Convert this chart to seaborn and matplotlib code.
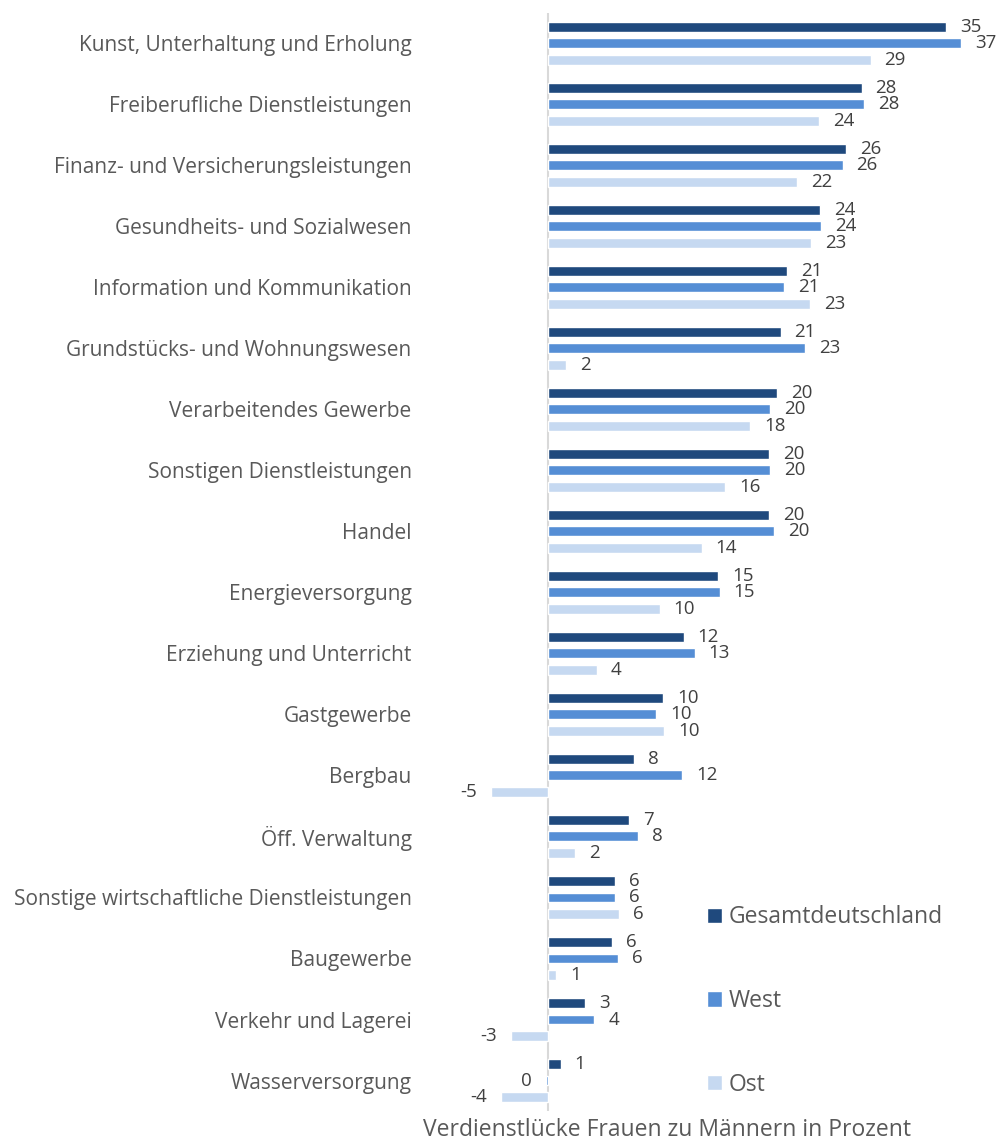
import pandas as pd
import seaborn as sns
import matplotlib.pyplot as plt

# Branchen (top to bottom) and pay gap values per region
branchen = ['Kunst, Unterhaltung und Erholung', 'Freiberufliche Dienstleistungen',
            'Finanz- und Versicherungsleistungen', 'Gesundheits- und Sozialwesen',
            'Information und Kommunikation', 'Grundstücks- und Wohnungswesen',
            'Verarbeitendes Gewerbe', 'Sonstigen Dienstleistungen', 'Handel',
            'Energieversorgung', 'Erziehung und Unterricht', 'Gastgewerbe', 'Bergbau',
            'Öff. Verwaltung', 'Sonstige wirtschaftliche Dienstleistungen', 'Baugewerbe',
            'Verkehr und Lagerei', 'Wasserversorgung']
gesamt = [35.3, 27.8, 26.4, 24.1, 21.2, 20.6, 20.3, 19.6, 19.6, 15.1, 12.0, 10.2, 7.6, 7.2, 5.9, 5.7, 3.3, 1.1]
west = [36.6, 28.0, 26.1, 24.2, 20.9, 22.8, 19.7, 19.7, 20.0, 15.2, 13.0, 9.6, 11.9, 8.0, 5.9, 6.2, 4.1, -0.2]
ost = [28.6, 24.0, 22.1, 23.3, 23.2, 1.6, 17.9, 15.7, 13.6, 9.9, 4.3, 10.3, -5.1, 2.4, 6.3, 0.7, -3.3, -4.2]
regionen = ['Gesamtdeutschland', 'West', 'Ost']
farben = ['#1F497D', '#558ED5', '#C6D9F1']

df = pd.concat([
    pd.DataFrame({'Branche': branchen, 'Wert': vals, 'Region': reg})
    for vals, reg in zip([gesamt, west, ost], regionen)
], ignore_index=True)

sns.set_style('white')
plt.rcParams['font.family'] = ['Open Sans', 'DejaVu Sans']
text_col = '#595959'

fig = plt.figure(figsize=(9.98, 11.46), dpi=100)
ax = fig.add_axes([0.425, 0.0305, 0.565, 0.9585])

sns.barplot(data=df, y='Branche', x='Wert', hue='Region', palette=farben,
            orient='h', width=0.81, gap=0.4, saturation=1, ax=ax)

# data labels
for cont in ax.containers:
    labels = [f"{round(b.get_width()):d}" for b in cont]
    ax.bar_label(cont, labels=labels, padding=10, fontsize=13.5, color='#404040')

ax.axvline(0, color='#D9D9D9', lw=1.5, zorder=0)
ax.set_xlim(-11, 39)
ax.set_ylim(17.5, -0.5)
sns.despine(ax=ax, left=True, bottom=True)
ax.set_xticks([])
ax.set_ylabel('')
ax.tick_params(axis='y', length=0, pad=9, labelsize=15, labelcolor=text_col)

ax.set_xlabel('Verdienstlücke Frauen zu Männern in Prozent', fontsize=16.5, color=text_col)
ax.xaxis.set_label_coords(0.431, -0.006)

ax.legend(loc='upper left', bbox_to_anchor=(0.688, 0.228), bbox_transform=fig.transFigure,
          frameon=False, fontsize=16.5, handlelength=0.65, handleheight=0.65,
          handletextpad=0.3, labelspacing=2.6, labelcolor=text_col)

plt.savefig('out.png', dpi=100)
